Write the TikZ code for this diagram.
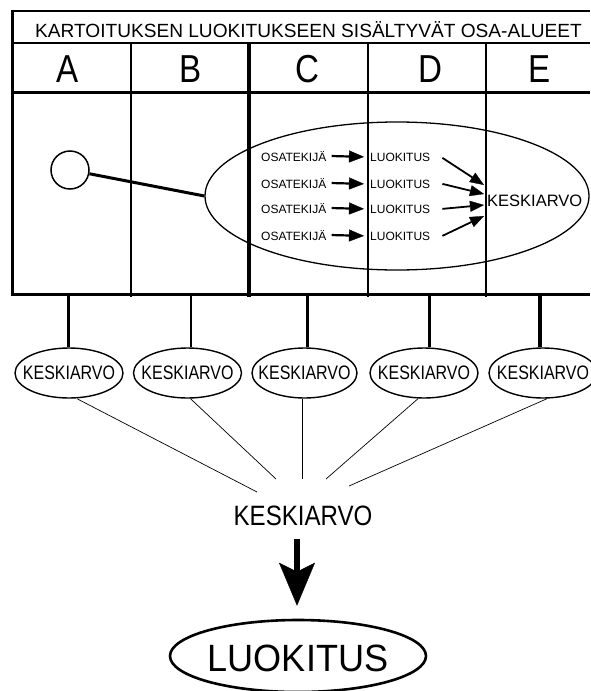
\documentclass[tikz,border=0pt]{standalone}
\usepackage{fontspec}
\setmainfont{Liberation Sans}
\newfontfamily\narrowA[FakeStretch=0.85]{Liberation Sans}
\newfontfamily\narrowB[FakeStretch=0.82]{Liberation Sans}
\newfontfamily\narrowC[FakeStretch=0.86]{Liberation Sans}
\newfontfamily\narrowD[FakeStretch=0.95]{Liberation Sans}
\usetikzlibrary{shapes.geometric,arrows.meta}
\begin{document}
\begin{tikzpicture}[x=1pt,y=-1pt,
  titletext/.style={font=\fontsize{19.1}{20}\selectfont,anchor=base,inner sep=0},
  lettertext/.style={font=\narrowA\fontsize{39}{40}\selectfont,anchor=base,inner sep=0},
  smalltext/.style={font=\fontsize{12}{13}\selectfont,anchor=base west,inner sep=0},
  avgnode/.style={draw,ellipse,line width=1.4pt,minimum width=108pt,minimum height=50pt,inner sep=0,
    font=\narrowB\fontsize{19.5}{20}\selectfont},
  smallarrow/.style={line width=2.2pt,-{Triangle[length=15pt,width=12pt,line width=0.3pt]}},
  diagarrow/.style={line width=1.8pt,-{Triangle[length=14pt,width=11pt,line width=0.3pt]}},
  stub/.style={line width=3pt},
  fanline/.style={line width=0.7pt},
]
\useasboundingbox (0,0) rectangle (590,691);
% table
\draw[line width=2pt] (11,11) -- (590,11);
\draw[line width=3pt] (12,10) -- (12,295.5);
\draw[line width=2.5pt] (12,43) -- (590,43);
\draw[line width=3pt] (12,92) -- (590,92);
\draw[line width=3pt] (10.5,294) -- (590,294);
\draw[line width=2pt] (131,43) -- (131,297);
\draw[line width=3.5pt] (249,43) -- (249,297);
\draw[line width=2.8pt] (368,43) -- (368,297);
\draw[line width=2.8pt] (486,43) -- (486,297);
\node[titletext] (title) at (308.5,37) {KARTOITUKSEN LUOKITUKSEEN SISÄLTYVÄT OSA-ALUEET};
\node[lettertext] (la) at (68,82) {A};
\node[lettertext] (lb) at (191,82) {B};
\node[lettertext] (lc) at (307,82) {C};
\node[lettertext] (ld) at (430.5,82) {D};
\node[lettertext] (le) at (540,82) {E};
% circle and big ellipse
\node[draw,circle,minimum size=38pt,inner sep=0,line width=1.5pt] (circ) at (70,170) {};
\node[draw,ellipse,minimum width=384pt,minimum height=148pt,inner sep=0,line width=1.3pt] (big) at (397,196) {};
\draw[line width=3pt] (circ) -- (big.west);
% rows
\foreach \i/\y in {1/161,2/188,3/213,4/240}{
  \node[smalltext] (o\i) at (261,\y) {OSATEKIJÄ};
  \node[smalltext] (l\i) at (370,\y) {LUOKITUS};
  \draw[smallarrow] ([xshift=5pt]o\i.east) -- ([xshift=-6pt]l\i.west);
}
\node[font=\fontsize{16.5}{17}\selectfont,anchor=base west,inner sep=0] (kin) at (487,206) {KESKIARVO};
\coordinate (t1) at (484,185);
\coordinate (t2) at (484,194);
\coordinate (t3) at (484,205);
\coordinate (t4) at (484,216);
\draw[diagarrow] ([xshift=12pt,yshift=-1pt]l1.east) -- (t1);
\draw[diagarrow] ([xshift=12pt]l2.east) -- (t2);
\draw[diagarrow] ([xshift=12pt]l3.east) -- (t3);
\draw[diagarrow] ([xshift=12pt]l4.east) -- (t4);
% lower ellipses
\node[avgnode] (k1) at (69,373) {\makebox[0pt]{KESKIARVO}};
\node[avgnode] (k2) at (187.5,373) {\makebox[0pt]{KESKIARVO}};
\node[avgnode,minimum width=105pt] (k3) at (304.5,373) {\makebox[0pt]{KESKIARVO}};
\node[avgnode] (k4) at (424,373) {\makebox[0pt]{KESKIARVO}};
\node[avgnode] (k5) at (543,373) {\makebox[0pt]{KESKIARVO}};
\coordinate (s1) at (68,294);
\coordinate (s2) at (191,294);
\coordinate (s3) at (307,294);
\coordinate (s4) at (429,294);
\coordinate (s5) at (540,294);
\draw[stub] (s1) -- (s1 |- k1.north);
\draw[stub,line width=2.2pt] (s2) -- (s2 |- k2.north);
\draw[stub] (s3) -- (s3 |- k3.north);
\draw[stub] (s4) -- (s4 |- k4.north);
\draw[stub,line width=3.5pt] (s5) -- (s5 |- k5.north);
% final
\node[font=\narrowC\fontsize{28}{30}\selectfont,anchor=base,inner sep=0] (kfin) at (303,525) {KESKIARVO};
\coordinate (e1) at (257,492);
\coordinate (e2) at (276,479);
\coordinate (e3) at (302,479);
\coordinate (e4) at (326,479);
\coordinate (e5) at (349,486);
\draw[fanline] ([xshift=8pt]k1.south) -- (e1);
\draw[fanline] ([xshift=3pt]k2.south) -- (e2);
\draw[fanline] ([xshift=-2.5pt]k3.south) -- (e3);
\draw[fanline] ([xshift=-6pt]k4.south) -- (e4);
\draw[fanline] ([xshift=4pt]k5.south) -- (e5);
\node[draw,ellipse,line width=2.6pt,minimum width=256pt,minimum height=72pt,inner sep=0,
  text height=31pt,text depth=0pt,font=\narrowD\fontsize{38}{40}\selectfont] (luok) at (298,656) {\makebox[0pt]{LUOKITUS}};
\draw[line width=6pt,-{Stealth[length=43pt,width=36pt,inset=9pt,line width=0.3pt]}]
  ([xshift=-1pt,yshift=-14pt]kfin.south -| luok.north) -- ([xshift=-1pt,yshift=13pt]luok.north);
\end{tikzpicture}
\end{document}
